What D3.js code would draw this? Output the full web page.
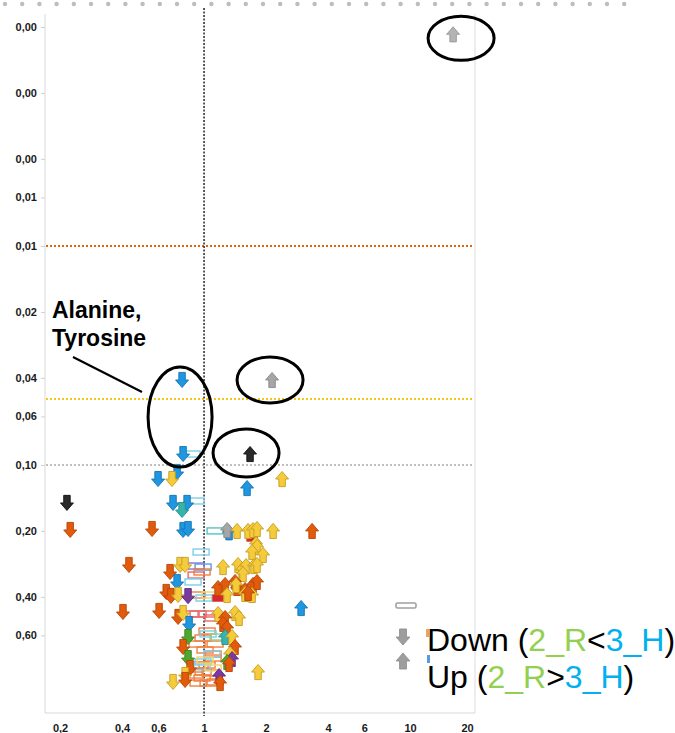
<!DOCTYPE html>
<html>
<head>
<meta charset="utf-8">
<script src="https://cdn.jsdelivr.net/npm/d3@7"></script>
<style>
html,body{margin:0;padding:0;background:#fff;}
svg{display:block;font-family:"Liberation Sans",Arial,sans-serif;}
</style>
</head>
<body>
<svg id="chart" width="675" height="733"></svg>
<script>
// ---------- DATA ----------
const xTicks = [0.2, 0.4, 0.6, 1, 2, 4, 6, 10, 20];
const yTicks = [0.001, 0.002, 0.004, 0.006, 0.01, 0.02, 0.04, 0.06, 0.1, 0.2, 0.4, 0.6];
const thresholdP = [0.01, 0.05, 0.1];
const thresholdColor = ["#E8630A", "#F5C518", "#BFBFBF"];

// Down arrows (2_R < 3_H)
const downFC = [0.782,0.791,0.740,0.598,0.699,0.216,0.707,0.827,0.782,0.224,0.559,0.791,0.836,0.432,0.684,0.765,0.809,0.740,0.655,0.690,0.748,0.836,0.404,0.605,0.748,0.791,0.846,0.836,0.791,0.836,0.855,0.809,0.809,0.707];
const downP  = [0.0409,0.0891,0.1076,0.1159,0.1159,0.149,0.149,0.149,0.1605,0.198,0.196,0.198,0.196,0.286,0.308,0.286,0.286,0.342,0.380,0.396,0.392,0.397,0.469,0.464,0.494,0.474,0.532,0.610,0.678,0.761,0.845,0.910,0.959,0.979];
const downCol = ["blue","blue","blue","blue","yellow","black","blue","blue","teal","orange","orange","blue","blue","orange","orange","yellow","yellow","blue","orange","orange","yellow","purple","orange","orange","orange","yellow","blue","green","orange","green","orange","yellow","orange","yellow"];

// Up arrows (2_R > 3_H)
const upFC = [16.17,2.138,1.672,2.392,1.617,1.322,1.293,1.446,1.635,1.729,1.808,2.163,3.344,1.788,1.808,1.710,1.934,1.236,1.462,1.529,1.599,1.748,1.808,1.546,1.169,1.265,1.414,1.446,1.729,1.808,1.581,1.430,1.293,1.581,1.710,1.635,1.169,1.414,1.479,1.265,1.236,1.293,2.958,1.265,1.367,1.414,1.337,1.367,1.293,1.322,1.829,1.183,1.196];
const upP  = [0.00108,0.0409,0.0891,0.1159,0.1274,0.203,0.198,0.200,0.200,0.198,0.196,0.200,0.200,0.2295,0.2368,0.2497,0.2576,0.2924,0.2862,0.3017,0.2893,0.2893,0.2862,0.3146,0.3644,0.353,0.342,0.3644,0.353,0.342,0.3722,0.353,0.3923,0.388,0.3923,0.3841,0.479,0.474,0.4996,0.4996,0.532,0.555,0.4498,0.610,0.610,0.678,0.7295,0.769,0.7935,0.810,0.882,0.92,0.990];
const upCol = ["lightgray","gray","black","yellow","blue","blue","gray","yellow","yellow","yellow","yellow","yellow","orange","yellow","yellow","yellow","yellow","yellow","yellow","yellow","yellow","yellow","yellow","yellow","orange","orange","orange","orange","orange","orange","orange","yellow","yellow","yellow","yellow","orange","yellow","yellow","yellow","orange","orange","orange","blue","teal","yellow","orange","yellow","purple","green","orange","yellow","purple","orange"];

// Unchanged (hollow rectangles)
const rectFC = [0.874,0.915,1.131,0.967,0.915,0.989,0.978,0.915,0.884,1.710,0.925,1.069,1.000,0.855,0.935,1.034,1.106,1.169,1.034,0.989,1.131,0.925,1.011,1.106,1.106,1.034,0.956,0.989,0.904,1.069,0.978,0.935,1.046,1.131,1.046,1.093,0.989,0.978,1.169,1.011,1.106];
const rectP  = [0.0891,0.146,0.200,0.2497,0.2893,0.2924,0.308,0.318,0.342,0.2154,0.3923,0.3923,0.405,0.479,0.479,0.479,0.4996,0.405,0.5728,0.6166,0.657,0.657,0.6995,0.7295,0.761,0.819,0.819,0.882,0.910,0.891,0.939,0.990,0.990,0.979,0.591,0.7295,0.7935,0.835,0.610,0.777,0.845];
const rectCol = ["lightblue","lightblue","teal","lightblue","purple","blue","orange","red","lightblue","redfill","orange","yellow","lightblue","red","red","red","red","redfill","orange","orange","orange","orange","orange","orange","orange","orange","orange","orange","orange","orange","orange","orange","orange","orange","lightblue","lightblue","lightblue","lightblue","green","yellow","yellow"];

// ---------- STYLES ----------
const arrowStyle = {
  blue:{fill:"#1E96E0",stroke:"#1874B0"},
  orange:{fill:"#E25A0C",stroke:"#B54607"},
  yellow:{fill:"#F5CA3B",stroke:"#C49E22"},
  black:{fill:"#2A2A2A",stroke:"#111"},
  gray:{fill:"#A6A6A6",stroke:"#888"},
  lightgray:{fill:"#B4B4B4",stroke:"#999"},
  green:{fill:"#4EA72E",stroke:"#3A8420"},
  purple:{fill:"#7B3A9E",stroke:"#5E2A7A"},
  teal:{fill:"#36B3AC",stroke:"#23908A"}
};
const rectStyle = {
  lightblue:"#7CCFEA", teal:"#55C4C4", purple:"#8A6FD0", blue:"#5A9BE0",
  orange:"#F08040", red:"#E86A6A", yellow:"#F2D36E", green:"#8CD48C", redfill:"#D8282A"
};

// ---------- SCALES ----------
const svg = d3.select("#chart");
const x = d3.scaleLog().domain([0.169, 20.2]).range([45, 473]);
const y = d3.scaleLog().domain([0.000872, 1.3566]).range([14, 713]);
const fmt = v => d3.format(".2f")(v).replace(".", ",");
const fmtX = v => String(v).replace(".", ",");

// top decorative dotted border
svg.append("g").selectAll("circle").data(d3.range(37)).join("circle")
  .attr("cx", i => 5 + i * 17.2).attr("cy", 4).attr("r", 2.2).attr("fill", "#BDBDBD");

// frame lines
svg.append("line").attr("x1",45).attr("x2",45).attr("y1",14).attr("y2",713).attr("stroke","#D9D9D9");
svg.append("line").attr("x1",475).attr("x2",475).attr("y1",14).attr("y2",713).attr("stroke","#DCDCDC");
svg.append("line").attr("x1",45).attr("x2",475).attr("y1",713).attr("y2",713).attr("stroke","#D9D9D9");

// Y axis
const yAxis = d3.axisLeft(y).tickValues(yTicks).tickFormat(fmt).tickSize(4).tickPadding(4);
const gy = svg.append("g").attr("transform","translate(45,0)").call(yAxis);
gy.select(".domain").remove();
gy.selectAll(".tick line").attr("stroke","#D0D0D0");
gy.selectAll(".tick text").attr("font-size","11px").attr("font-weight","bold").attr("fill","#1A1A1A")
  .attr("font-family","'Liberation Sans',Arial,sans-serif");

// X axis
const xAxis = d3.axisBottom(x).tickValues(xTicks).tickFormat(fmtX).tickSize(0).tickPadding(11);
const gx = svg.append("g").attr("transform","translate(0,713)").call(xAxis);
gx.select(".domain").remove();
gx.selectAll(".tick text").attr("font-size","11px").attr("font-weight","bold").attr("fill","#1A1A1A")
  .attr("font-family","'Liberation Sans',Arial,sans-serif");
gx.selectAll(".tick text").filter(d => d === 20).attr("text-anchor","end").attr("dx","0.1em");

// threshold lines
svg.append("g").selectAll("line").data(thresholdP).join("line")
  .attr("x1",46).attr("x2",473)
  .attr("y1",d=>y(d)).attr("y2",d=>y(d))
  .attr("stroke",(d,i)=>thresholdColor[i]).attr("stroke-width",2).attr("stroke-dasharray","2,2");

// vertical reference at fold change 1
svg.append("line").attr("x1",x(1)).attr("x2",x(1)).attr("y1",8).attr("y2",716)
  .attr("stroke","#333").attr("stroke-width",1.6).attr("stroke-dasharray","2,1.5");

// arrow path
function arrowPath(dir, s) { // dir = -1 up, +1 down
  s = s || 1;
  const pts = [[0,-7],[6,0],[3,0],[3,7],[-3,7],[-3,0],[-6,0]].map(p => [p[0]*s, p[1]*dir*-1*s]);
  return "M" + pts.map(p => p.join(",")).join("L") + "Z";
}
const MS = 1.08;

// rectangles (unchanged)
const rects = rectFC.map((v,i)=>({fc:v,p:rectP[i],c:rectCol[i]}));
svg.append("g").selectAll("rect").data(rects).join("rect")
  .attr("x", d => x(d.fc) - (d.c==="redfill"?5:8))
  .attr("y", d => y(d.p) - 3)
  .attr("width", d => d.c==="redfill"?10:16).attr("height", 6)
  .attr("fill", d => d.c==="redfill" ? rectStyle.redfill : "none")
  .attr("stroke", d => rectStyle[d.c]).attr("stroke-width", 1.4);

// down arrows
const downs = downFC.map((v,i)=>({fc:v,p:downP[i],c:downCol[i]}));
svg.append("g").selectAll("path").data(downs).join("path")
  .attr("d", arrowPath(1, MS))
  .attr("transform", d => `translate(${x(d.fc)},${y(d.p)})`)
  .attr("fill", d => arrowStyle[d.c].fill).attr("stroke", d => arrowStyle[d.c].stroke).attr("stroke-width",0.9);

// up arrows
const ups = upFC.map((v,i)=>({fc:v,p:upP[i],c:upCol[i]}));
svg.append("g").selectAll("path").data(ups).join("path")
  .attr("d", arrowPath(-1, MS))
  .attr("transform", d => `translate(${x(d.fc)},${y(d.p)})`)
  .attr("fill", d => arrowStyle[d.c].fill).attr("stroke", d => arrowStyle[d.c].stroke).attr("stroke-width",0.9);

// annotation ellipses
const ann = svg.append("g").attr("fill","none").attr("stroke","#000").attr("stroke-width",3);
ann.append("ellipse").attr("cx", x(upFC[0]) + 8).attr("cy", y(upP[0]) + 4).attr("rx",33).attr("ry",22);
ann.append("ellipse").attr("cx", x(upFC[1]) - 2).attr("cy", y(upP[1])).attr("rx",33).attr("ry",23);
ann.append("ellipse").attr("cx", x(upFC[2]) - 4).attr("cy", y(upP[2]) - 1).attr("rx",33).attr("ry",24);
ann.append("ellipse").attr("cx", x(downFC[0]) - 2).attr("cy", (y(downP[0]) + y(downP[1])) / 2).attr("rx",32).attr("ry",50);
ann.append("line").attr("x1",73).attr("y1",357).attr("x2",142).attr("y2",392).attr("stroke-width",2.2);

svg.append("text").attr("x",52).attr("y",318).attr("font-size","23px").attr("font-weight","bold").text("Alanine,");
svg.append("text").attr("x",52).attr("y",346).attr("font-size","23px").attr("font-weight","bold").text("Tyrosine");

// legend
const lg = svg.append("g");
lg.append("rect").attr("x",396).attr("y",603).attr("width",20).attr("height",5).attr("rx",1.5)
  .attr("fill","none").attr("stroke","#A0A0A0").attr("stroke-width",1.6);
lg.append("path").attr("d", arrowPath(1, 1.15)).attr("transform","translate(403,637)").attr("fill","#9E9E9E").attr("stroke","#8C8C8C").attr("stroke-width",0.8);
lg.append("path").attr("d", arrowPath(-1, 1.15)).attr("transform","translate(403,661)").attr("fill","#9E9E9E").attr("stroke","#8C8C8C").attr("stroke-width",0.8);
lg.append("rect").attr("x",426).attr("y",629).attr("width",3).attr("height",8).attr("fill","#F0A060");
lg.append("rect").attr("x",427).attr("y",655).attr("width",3).attr("height",8).attr("fill","#5A9BE0");

const t1 = lg.append("text").attr("x",427).attr("y",651).attr("font-size","32px").attr("fill","#000");
t1.append("tspan").text("Down (");
t1.append("tspan").attr("fill","#92D050").text("2_R");
t1.append("tspan").text("<");
t1.append("tspan").attr("fill","#00B0F0").text("3_H");
t1.append("tspan").text(")");
const t2 = lg.append("text").attr("x",427).attr("y",688).attr("font-size","32px").attr("fill","#000");
t2.append("tspan").text("Up (");
t2.append("tspan").attr("fill","#92D050").text("2_R");
t2.append("tspan").text(">");
t2.append("tspan").attr("fill","#00B0F0").text("3_H");
t2.append("tspan").text(")");
</script>
</body>
</html>
